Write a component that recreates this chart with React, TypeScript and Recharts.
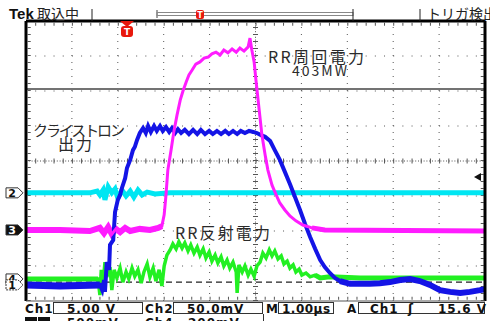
import React from "react";
import { ComposedChart, Line, XAxis, YAxis, ReferenceLine } from "recharts";

// time in divisions (1.00µs/div), level in screen divisions (0 = bottom, 8 = top)
const ch1Klystron: [number, number][] = [
  [0, 0.46], [0.74, 0.43], [1.61, 0.46], [1.66, 0.31], [1.7, 0.6], [1.72, 0.26],
  [1.76, 1.11], [1.81, 0.89], [1.83, 1.6], [1.9, 1.74], [1.94, 2.54], [2.0, 2.89],
  [2.05, 3.03], [2.09, 3.23], [2.16, 3.51], [2.2, 3.8], [2.27, 4.03], [2.33, 4.31],
  [2.37, 4.4], [2.42, 4.6], [2.48, 4.8], [2.55, 4.94], [2.61, 4.8], [2.66, 5.0],
  [2.72, 4.83], [2.79, 5.0], [2.85, 4.86], [2.92, 5.0], [2.98, 4.86], [3.05, 4.97],
  [3.12, 4.83], [3.18, 4.94], [3.25, 4.8], [3.31, 4.91], [3.38, 4.8], [3.46, 4.89],
  [3.55, 4.77], [3.64, 4.89], [3.73, 4.77], [3.81, 4.89], [3.9, 4.77], [3.99, 4.86],
  [4.07, 4.77], [4.16, 4.86], [4.25, 4.77], [4.34, 4.86], [4.42, 4.77], [4.51, 4.86],
  [4.6, 4.77], [4.68, 4.86], [4.77, 4.8], [4.86, 4.86], [4.95, 4.83], [5.03, 4.8],
  [5.12, 4.74], [5.21, 4.69], [5.32, 4.57], [5.42, 4.31], [5.53, 4.03], [5.64, 3.69],
  [5.75, 3.34], [5.86, 2.97], [5.97, 2.6], [6.08, 2.2], [6.19, 1.83], [6.3, 1.49],
  [6.41, 1.17], [6.51, 0.97], [6.62, 0.8], [6.73, 0.66], [6.84, 0.57], [7.06, 0.49],
  [7.28, 0.49], [7.49, 0.49], [7.71, 0.51], [7.93, 0.54], [8.15, 0.6], [8.37, 0.63],
  [8.58, 0.57], [8.8, 0.46], [9.02, 0.31], [9.24, 0.26], [9.46, 0.23], [9.67, 0.26],
  [9.89, 0.31], [10, 0.34],
];

const ch2Level: [number, number][] = [
  [0, 3.09], [1.39, 3.09], [1.55, 3.14], [1.61, 3.03], [1.68, 3.17], [1.72, 2.89],
  [1.79, 3.26], [1.87, 3.09], [1.94, 3.2], [2.0, 2.94], [2.09, 3.17], [2.18, 3.0],
  [2.27, 3.14], [2.35, 2.97], [2.44, 3.17], [2.53, 3.03], [2.64, 3.11], [2.81, 3.06],
  [3.14, 3.09], [10, 3.09],
];

const ch3RingPower: [number, number][] = [
  [0, 2.03], [0.74, 2.03], [1.39, 2.0], [1.61, 2.09], [1.7, 1.94], [1.79, 2.11],
  [1.87, 1.91], [1.96, 2.06], [2.05, 1.97], [2.16, 2.09], [2.27, 2.0], [2.48, 2.06],
  [2.7, 2.03], [2.88, 2.09], [2.96, 2.14], [3.01, 2.46], [3.05, 3.03], [3.09, 3.74],
  [3.16, 4.31], [3.22, 4.83], [3.29, 5.31], [3.36, 5.74], [3.42, 6.0], [3.49, 6.26],
  [3.55, 6.46], [3.62, 6.6], [3.7, 6.77], [3.79, 6.83], [3.88, 6.94], [3.97, 6.97],
  [4.05, 7.06], [4.14, 7.11], [4.23, 7.03], [4.31, 7.17], [4.4, 7.09], [4.49, 7.2],
  [4.58, 7.11], [4.66, 7.23], [4.75, 7.14], [4.84, 7.26], [4.88, 7.51], [4.92, 7.17],
  [4.97, 6.83], [5.01, 6.31], [5.08, 5.46], [5.14, 4.74], [5.21, 4.17], [5.27, 3.74],
  [5.36, 3.31], [5.45, 3.03], [5.53, 2.8], [5.64, 2.6], [5.75, 2.43], [5.88, 2.29],
  [6.03, 2.17], [6.23, 2.09], [6.51, 2.03], [10, 2.0],
];

const ch4Reflected: [number, number][] = [
  [0, 0.63], [0.74, 0.63], [1.57, 0.63], [1.61, 0.17], [1.64, 0.89], [1.68, 0.49],
  [1.72, 1.11], [1.76, 0.69], [1.83, 0.97], [1.87, 0.31], [1.92, 0.89], [1.98, 0.66],
  [2.05, 0.94], [2.11, 0.54], [2.18, 0.83], [2.24, 0.63], [2.31, 0.94], [2.37, 0.71],
  [2.44, 0.89], [2.51, 0.51], [2.57, 0.83], [2.64, 1.06], [2.7, 0.69], [2.77, 0.94],
  [2.83, 0.57], [2.9, 0.89], [2.96, 0.43], [3.01, 1.0], [3.07, 1.31], [3.14, 1.46],
  [3.2, 1.63], [3.27, 1.49], [3.33, 1.69], [3.4, 1.51], [3.46, 1.66], [3.53, 1.43],
  [3.59, 1.6], [3.66, 1.37], [3.73, 1.54], [3.79, 1.31], [3.86, 1.49], [3.92, 1.23],
  [3.99, 1.4], [4.05, 1.14], [4.12, 1.31], [4.18, 1.09], [4.25, 1.26], [4.31, 1.0],
  [4.38, 1.17], [4.44, 0.94], [4.51, 1.11], [4.58, 0.83], [4.6, 0.23], [4.64, 1.03],
  [4.71, 0.83], [4.77, 1.0], [4.84, 0.74], [4.9, 0.91], [4.97, 0.71], [5.03, 1.0],
  [5.1, 1.11], [5.16, 1.37], [5.23, 1.23], [5.3, 1.46], [5.36, 1.29], [5.42, 1.43],
  [5.49, 1.2], [5.56, 1.29], [5.62, 1.06], [5.69, 1.14], [5.75, 0.94], [5.82, 1.03],
  [5.88, 0.83], [5.95, 0.91], [6.01, 0.74], [6.1, 0.8], [6.19, 0.69], [6.3, 0.74],
  [6.41, 0.66], [6.62, 0.69], [7.28, 0.66], [8.15, 0.66], [9.02, 0.66], [10, 0.66],
];

const gridX = [1, 2, 3, 4, 6, 7, 8, 9];
const gridY = [1, 2, 3, 5, 6, 7];
const cursorSolid = 6.06;
const cursorDashed = 0.54;

const channelMarks = [
  { label: "2", level: 3.09, dark: false },
  { label: "3", level: 2.03, dark: true },
  { label: "4", level: 0.63, dark: false },
  { label: "1", level: 0.46, dark: false },
];

const annotations = [
  { text: "RR周回電力", x: 268, y: 63, len: 96, size: 16 },
  { text: "403MW", x: 292, y: 76, len: 55, size: 14 },
  { text: "クライストロン", x: 33, y: 136, len: 92, size: 15 },
  { text: "出力", x: 58, y: 150, len: 34, size: 16 },
  { text: "RR反射電力", x: 175, y: 239, len: 95, size: 16 },
];

const PLOT = { left: 26, top: 21, width: 459, height: 280 };
const levelToPx = (v: number) => PLOT.top + PLOT.height - (v * PLOT.height) / 8;
const toPts = (arr: [number, number][]) => arr.map(([t, v]) => ({ t, v }));
const before = (arr: [number, number][], tMax: number) => toPts(arr.filter(([t]) => t <= tMax));
const after = (arr: [number, number][], tMin: number) => toPts(arr.filter(([t]) => t >= tMin));

const mono: React.CSSProperties = {
  position: "absolute",
  fontFamily: "'DejaVu Sans', sans-serif",
  fontWeight: 700,
  fontSize: 12,
  letterSpacing: 1,
  lineHeight: "12px",
  color: "#111",
  whiteSpace: "nowrap",
};

const Box = ({ x, w }: { x: number; w: number }) => (
  <div style={{ position: "absolute", left: x, top: 302, width: w, height: 12, border: "1px solid #333", boxSizing: "border-box" }} />
);

const App = () => {
  return (
    <div style={{ position: "fixed", left: 0, top: 0, width: 490, height: 321, overflow: "hidden", background: "#fff" }}>
      <ComposedChart
        width={490}
        height={321}
        margin={{ top: PLOT.top, left: PLOT.left, right: 490 - PLOT.left - PLOT.width, bottom: 321 - PLOT.top - PLOT.height }}
        style={{ position: "absolute", left: 0, top: 0 }}
      >
        <XAxis dataKey="t" type="number" domain={[0, 10]} hide allowDataOverflow />
        <YAxis type="number" domain={[0, 8]} hide allowDataOverflow />
        {gridX.map((x) => (
          <ReferenceLine key={"gx" + x} x={x} stroke="#555" strokeDasharray="1 6" />
        ))}
        {gridY.map((y) => (
          <ReferenceLine key={"gy" + y} y={y} stroke="#555" strokeDasharray="1 8.18" />
        ))}
        <ReferenceLine x={5} stroke="#555" strokeDasharray="1 1.8" />
        <ReferenceLine x={5} stroke="#555" strokeWidth={5} strokeDasharray="1 6" />
        <ReferenceLine y={4} stroke="#555" strokeDasharray="1 1.8" />
        <ReferenceLine y={4} stroke="#555" strokeWidth={5} strokeDasharray="1 8.18" />
        <ReferenceLine x={0.07} stroke="#555" strokeWidth={3} strokeDasharray="1 6" />
        <ReferenceLine x={9.94} stroke="#555" strokeWidth={3} strokeDasharray="1 6" />
        <ReferenceLine y={7.91} stroke="#555" strokeWidth={3} strokeDasharray="1 8.18" />
        <ReferenceLine y={0.08} stroke="#555" strokeWidth={3} strokeDasharray="1 8.18" />
        <ReferenceLine y={cursorSolid} stroke="#444" strokeWidth={1.5} />
        <ReferenceLine y={cursorDashed} stroke="#222" strokeWidth={1.2} strokeDasharray="6 4" />

        {/* noise band of each trace (wider stroke on the quiet parts) */}
        <Line data={toPts(ch2Level)} dataKey="v" type="linear" dot={false} stroke="#00e6f2" strokeWidth={5} isAnimationActive={false} />
        <Line data={before(ch3RingPower, 2.96)} dataKey="v" type="linear" dot={false} stroke="#ff1cff" strokeWidth={6} isAnimationActive={false} />
        <Line data={after(ch3RingPower, 6.23)} dataKey="v" type="linear" dot={false} stroke="#ff1cff" strokeWidth={5} isAnimationActive={false} />
        <Line data={before(ch4Reflected, 1.57)} dataKey="v" type="linear" dot={false} stroke="#22f022" strokeWidth={5} isAnimationActive={false} />
        <Line data={after(ch4Reflected, 6.3)} dataKey="v" type="linear" dot={false} stroke="#22f022" strokeWidth={5} isAnimationActive={false} />
        <Line data={toPts(ch4Reflected)} dataKey="v" type="linear" dot={false} stroke="#22f022" strokeWidth={3.5} isAnimationActive={false} />
        <Line data={before(ch1Klystron, 1.61)} dataKey="v" type="linear" dot={false} stroke="#1414e6" strokeWidth={7} isAnimationActive={false} />
        <Line data={after(ch1Klystron, 6.84)} dataKey="v" type="linear" dot={false} stroke="#1414e6" strokeWidth={6} isAnimationActive={false} />
        <Line data={toPts(ch1Klystron)} dataKey="v" type="linear" dot={false} stroke="#1414e6" strokeWidth={4} isAnimationActive={false} />
        <Line data={toPts(ch3RingPower)} dataKey="v" type="linear" dot={false} stroke="#ff1cff" strokeWidth={3} isAnimationActive={false} />

        <ReferenceLine x={0} stroke="#000" strokeWidth={3} />
        <ReferenceLine x={10} stroke="#000" strokeWidth={3} />
        <ReferenceLine y={8} stroke="#000" strokeWidth={3} />
        <ReferenceLine y={0} stroke="#555" strokeWidth={1} />
      </ComposedChart>

      <svg width={490} height={321} style={{ position: "absolute", left: 0, top: 0, pointerEvents: "none" }}>
        {/* header */}
        <text x={9} y={19} fontFamily="'Liberation Sans', Arial, sans-serif" fontWeight={700} fontSize={15} fill="#111">Tek</text>
        <text x={37} y={19} fontFamily="'Noto Sans CJK JP', sans-serif" fontSize={14} fill="#222">取込中</text>
        <line x1={92} y1={9} x2={92} y2={21} stroke="#222" strokeWidth={1} />
        <line x1={157} y1={10} x2={157} y2={18} stroke="#444" strokeWidth={1} />
        <rect x={157} y={12.5} width={196} height={3} fill="none" stroke="#888" strokeWidth={1} />
        <line x1={353} y1={9} x2={353} y2={21} stroke="#222" strokeWidth={1} />
        <line x1={420} y1={9} x2={420} y2={21} stroke="#222" strokeWidth={1} />
        <text x={427} y={19} fontFamily="'Noto Sans CJK JP', sans-serif" fontSize={14} fill="#222">トリガ検出</text>
        <rect x={196} y={10} width={8} height={9} rx={2} fill="#e8180c" />
        <text x={200} y={18} textAnchor="middle" fontFamily="'DejaVu Sans', sans-serif" fontWeight={700} fontSize={8} fill="#fff">T</text>
        {/* trigger position marker */}
        <polygon points="120,21 134,21 127,27" fill="#e8180c" />
        <rect x={121} y={26} width={12} height={11} rx={3} fill="#e8180c" />
        <text x={127} y={35} textAnchor="middle" fontFamily="'DejaVu Sans', sans-serif" fontWeight={700} fontSize={9} fill="#fff">T</text>
        {/* trigger level arrow */}
        <polygon points="474,177 481,173 481,181" fill="#111" />
        {/* channel markers */}
        {channelMarks.map((m) => {
          const y = levelToPx(m.level);
          return (
            <g key={m.label}>
              <polygon
                points={`6,${y - 5} 18,${y - 5} 23,${y} 18,${y + 5} 6,${y + 5}`}
                fill={m.dark ? "#111" : "#fff"}
                stroke="#333"
                strokeWidth={1}
                strokeDasharray={m.label === "1" ? "2 1" : undefined}
              />
              <text x={12} y={y + 4} textAnchor="middle" fontFamily="'DejaVu Sans', sans-serif" fontWeight={700} fontSize={11} fill={m.dark ? "#fff" : "#111"}>
                {m.label}
              </text>
            </g>
          );
        })}
        {annotations.map((a) => (
          <text
            key={a.text}
            x={a.x}
            y={a.y}
            textLength={a.len}
            lengthAdjust="spacing"
            fontFamily="'Noto Sans CJK JP', sans-serif"
            fontSize={a.size}
            fill="#2a2a2a"
          >
            {a.text}
          </text>
        ))}
      </svg>

      {/* status readout */}
      <div style={{ ...mono, left: 25, top: 303 }}>Ch1</div>
      <Box x={53} w={90} />
      <div style={{ ...mono, left: 67, top: 303 }}>5.00 V</div>
      <div style={{ ...mono, left: 145, top: 303 }}>Ch2</div>
      <Box x={173} w={90} />
      <div style={{ ...mono, left: 187, top: 303 }}>50.0mV</div>
      <div style={{ ...mono, left: 266, top: 303 }}>M</div>
      <Box x={278} w={56} />
      <div style={{ ...mono, left: 282, top: 303, letterSpacing: 0.5 }}>1.00µs</div>
      <div style={{ ...mono, left: 347, top: 303 }}>A</div>
      <Box x={358} w={127} />
      <div style={{ ...mono, left: 370, top: 303 }}>Ch1</div>
      <div style={{ ...mono, left: 408, top: 303 }}>ʃ</div>
      <div style={{ ...mono, left: 438, top: 303 }}>15.6 V</div>
      <div style={{ position: "absolute", left: 25, top: 317, width: 12, height: 8, background: "#111" }} />
      <div style={{ position: "absolute", left: 38, top: 317, width: 12, height: 8, background: "#111" }} />
      <div style={{ ...mono, left: 67, top: 317 }}>500mV</div>
      <div style={{ ...mono, left: 145, top: 317 }}>Ch4</div>
      <div style={{ ...mono, left: 188, top: 317 }}>200mV</div>
      <div style={{ position: "absolute", left: 263, top: 314, width: 1, height: 10, background: "#333" }} />
    </div>
  );
};

export default App;
